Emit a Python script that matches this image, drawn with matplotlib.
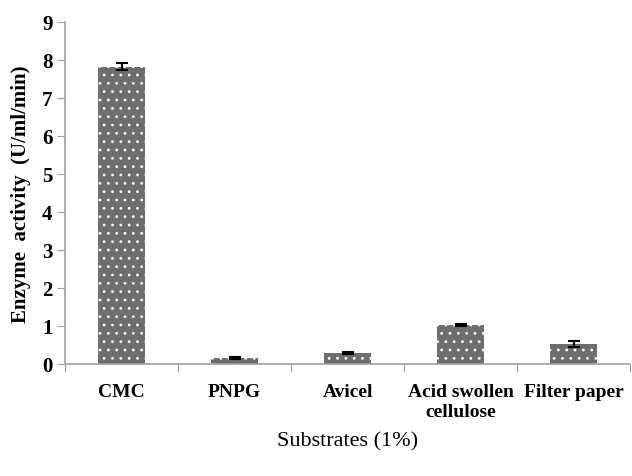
import numpy as np
import matplotlib.pyplot as plt

plt.rcParams['font.family'] = ['Liberation Serif', 'DejaVu Serif']
plt.rcParams['hatch.linewidth'] = 0.8

substrates = ['CMC', 'PNPG', 'Avicel', 'Acid swollen\ncellulose', 'Filter paper']
activity = [7.82, 0.15, 0.28, 1.03, 0.52]
errors = [0.09, 0.02, 0.03, 0.03, 0.08]

fig = plt.figure(figsize=(6.32, 4.77), dpi=100)
ax = fig.add_axes([0.103, 0.235, 0.894, 0.717])

x = np.arange(len(substrates))
ax.bar(x, activity, width=0.41, color='#6e6e6e', edgecolor='white',
       linewidth=0, hatch='..')
ax.errorbar(x, activity, yerr=errors, fmt='none', ecolor='black',
            elinewidth=1.5, capsize=4, capthick=1.5)

ax.set_xlim(-0.5, len(substrates) - 0.5)
ax.set_ylim(0, 9)
ax.set_yticks(range(10))
ax.set_xticks(np.arange(-0.5, len(substrates)), labels=[])
ax.set_xticks(x, labels=substrates, minor=True)
ax.tick_params(axis='x', which='minor', length=0, pad=14)
ax.tick_params(axis='x', which='major', length=6, color='#a0a0a0')
ax.tick_params(axis='y', length=6, color='#a0a0a0', pad=3)
for lab in ax.get_xticklabels(minor=True):
    lab.set_fontsize(14)
    lab.set_fontweight('bold')
for lab in ax.get_yticklabels():
    lab.set_fontsize(15)
    lab.set_fontweight('bold')

for side in ['top', 'right']:
    ax.spines[side].set_visible(False)
for side in ['left', 'bottom']:
    ax.spines[side].set_color('#a0a0a0')
    ax.spines[side].set_linewidth(1.2)

ax.set_ylabel('Enzyme  activity  (U/ml/min)', fontsize=15, fontweight='bold',
              labelpad=8)
ax.set_xlabel('Substrates (1%)', fontsize=16, labelpad=8)

fig.savefig('out.png', dpi=100)
